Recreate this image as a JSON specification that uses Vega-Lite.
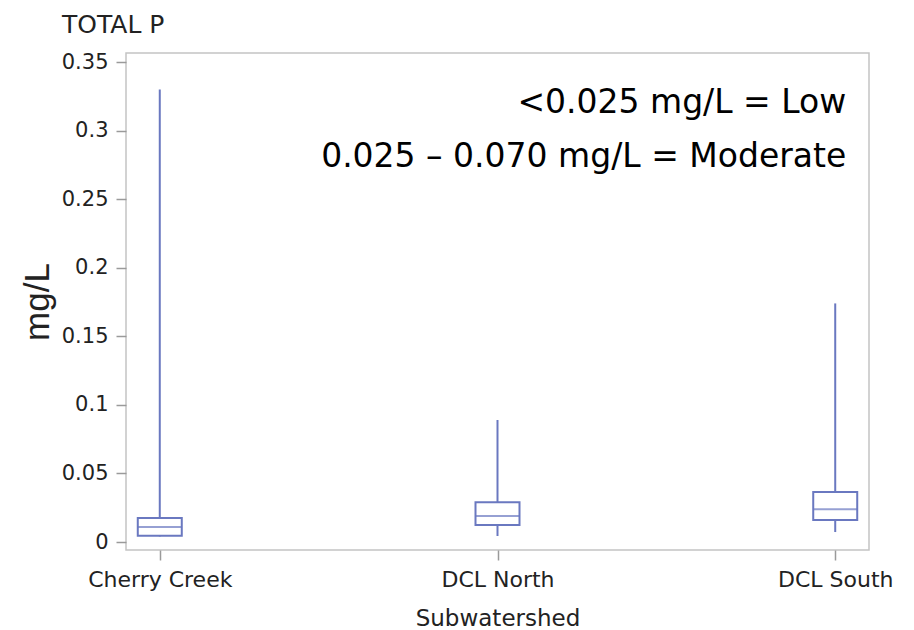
{
  "$schema": "https://vega.github.io/schema/vega-lite/v6.json",
  "width": 743,
  "height": 497,
  "autosize": {"type": "none"},
  "padding": {"left": 126, "top": 53, "right": 45, "bottom": 80},
  "background": "white",
  "config": {
    "view": {"stroke": "#c4c4c4", "strokeWidth": 1.5},
    "font": "DejaVu Sans",
    "axis": {"labelColor": "#222222", "titleColor": "#222222", "tickColor": "#9a9a9a", "tickWidth": 1.5, "grid": false, "domain": false, "titleFontWeight": "normal", "labelFont": "DejaVu Sans", "titleFont": "DejaVu Sans"}
  },
  "title": {
    "text": "TOTAL P",
    "anchor": "start",
    "frame": "group",
    "dx": -64,
    "offset": 18,
    "dy": 25,
    "fontSize": 25,
    "fontWeight": "normal",
    "color": "#222222",
    "font": "DejaVu Sans",
    "baseline": "alphabetic"
  },
  "datasets": {
    "boxes": [
      {"Subwatershed": "Cherry Creek", "min": 0.004, "q1": 0.0045, "median": 0.011, "q3": 0.0175, "max": 0.330},
      {"Subwatershed": "DCL North", "min": 0.0044, "q1": 0.0124, "median": 0.019, "q3": 0.029, "max": 0.089},
      {"Subwatershed": "DCL South", "min": 0.0073, "q1": 0.016, "median": 0.024, "q3": 0.0365, "max": 0.174}
    ],
    "notes": [
      {"Subwatershed": "DCL South", "val": 0.320, "label": "<0.025 mg/L = Low"},
      {"Subwatershed": "DCL South", "val": 0.281, "label": "0.025 – 0.070 mg/L = Moderate"}
    ]
  },
  "layer": [
    {
      "data": {"name": "boxes"},
      "mark": {"type": "rule", "color": "#6a78c0", "strokeWidth": 2},
      "encoding": {
        "x": {
          "field": "Subwatershed", "type": "nominal",
          "sort": ["Cherry Creek", "DCL North", "DCL South"],
          "scale": {"type": "point", "padding": 0.1},
          "axis": {"title": "Subwatershed", "labelAngle": 0, "labelFontSize": 22, "tickSize": 10, "labelPadding": 9, "titleFontSize": 23, "titleY": 75, "titleBaseline": "alphabetic"}
        },
        "y": {
          "field": "min", "type": "quantitative",
          "scale": {"domain": [-0.0058, 0.3566], "nice": false, "zero": false},
          "axis": {"title": "mg/L", "values": [0, 0.05, 0.1, 0.15, 0.2, 0.25, 0.3, 0.35], "format": "~g", "labelFontSize": 21, "tickSize": 10, "labelPadding": 8, "titleFont": "Liberation Sans", "titleFontSize": 35, "titleX": -78, "titleY": 248.5, "titleAngle": -90, "titleAlign": "center", "titleBaseline": "alphabetic"}
        },
        "y2": {"field": "max"}
      }
    },
    {
      "data": {"name": "boxes"},
      "mark": {"type": "bar", "fill": "white", "stroke": "#6a78c0", "strokeWidth": 2, "size": 44},
      "encoding": {
        "x": {"field": "Subwatershed", "type": "nominal", "sort": ["Cherry Creek", "DCL North", "DCL South"]},
        "y": {"field": "q1", "type": "quantitative"},
        "y2": {"field": "q3"}
      }
    },
    {
      "data": {"name": "boxes"},
      "mark": {"type": "tick", "color": "#6a78c0", "thickness": 2, "size": 44},
      "encoding": {
        "x": {"field": "Subwatershed", "type": "nominal", "sort": ["Cherry Creek", "DCL North", "DCL South"]},
        "y": {"field": "median", "type": "quantitative"}
      }
    },
    {
      "data": {"name": "notes"},
      "mark": {"type": "text", "align": "right", "baseline": "middle", "dx": 11, "fontSize": 33, "color": "#000000", "font": "DejaVu Sans"},
      "encoding": {
        "x": {"field": "Subwatershed", "type": "nominal", "sort": ["Cherry Creek", "DCL North", "DCL South"]},
        "y": {"field": "val", "type": "quantitative"},
        "text": {"field": "label"}
      }
    }
  ]
}
